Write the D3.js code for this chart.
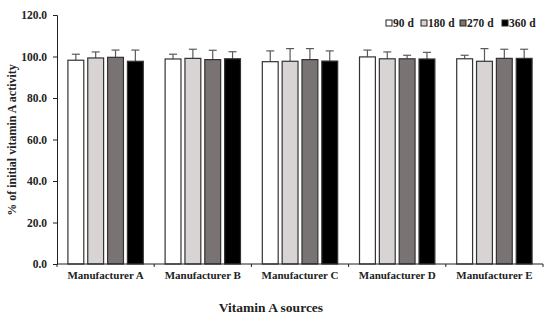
<!DOCTYPE html>
<html>
<head>
<meta charset="utf-8">
<title>vitamin A activity</title>
<script src="https://d3js.org/d3.v7.min.js"></script>
<style>
  body { margin: 0; background: #fff; }
  svg { display: block; font-family: "Liberation Serif", "Times New Roman", serif; font-weight: bold; }
</style>
</head>
<body>
<svg id="main" width="550" height="319"></svg>
<script>
// data
let sources = ['Manufacturer A', 'Manufacturer B', 'Manufacturer C', 'Manufacturer D', 'Manufacturer E'];
let periods = ['90 d', '180 d', '270 d', '360 d'];
let d90  = [98.2, 98.8, 97.5, 99.8, 98.9];
let d180 = [99.3, 99.1, 97.7, 98.9, 97.7];
let d270 = [99.6, 98.5, 98.5, 98.9, 99.1];
let d360 = [97.7, 98.9, 97.8, 98.8, 99.1];
let e90  = [2.9, 2.3, 5.2, 3.3, 1.7];
let e180 = [2.9, 4.4, 6.1, 3.3, 6.1];
let e270 = [3.5, 4.5, 5.3, 1.7, 4.4];
let e360 = [5.4, 3.4, 4.9, 3.2, 4.4];
let yTicks = [0, 20, 40, 60, 80, 100, 120];

let values = [d90, d180, d270, d360];
let errors = [e90, e180, e270, e360];
let fills = ['#ffffff', '#d8d4d4', '#7a7373', '#000000'];

let svg = d3.select('svg#main');
let mLeft = 57, mRight = 543, mTop = 15, mBottom = 264;

let x = d3.scaleBand().domain(sources).range([mLeft, mRight]).paddingInner(0).paddingOuter(0);
let xs = d3.scaleBand().domain(periods).range([0, x.bandwidth()]).paddingInner(0.2).paddingOuter(0.55);
let y = d3.scaleLinear().domain([0, 120]).range([mBottom, mTop]);

// rows: one per bar
let rows = [];
sources.forEach((s, i) => {
    periods.forEach((p, j) => {
        rows.push({ source: s, period: p, k: j, v: values[j][i], e: errors[j][i] });
    });
});

// error bars (behind bars)
let eb = svg.append('g').attr('class', 'errors')
    .attr('stroke', '#5a5a5a').attr('stroke-width', 1.2);
eb.selectAll('line.stem').data(rows).enter().append('line')
    .attr('x1', d => x(d.source) + xs(d.period) + xs.bandwidth() / 2)
    .attr('x2', d => x(d.source) + xs(d.period) + xs.bandwidth() / 2)
    .attr('y1', d => y(d.v))
    .attr('y2', d => y(d.v + d.e));
eb.selectAll('line.cap').data(rows).enter().append('line')
    .attr('x1', d => x(d.source) + xs(d.period) + xs.bandwidth() / 2 - 4)
    .attr('x2', d => x(d.source) + xs(d.period) + xs.bandwidth() / 2 + 4)
    .attr('y1', d => y(d.v + d.e))
    .attr('y2', d => y(d.v + d.e));

// bars
svg.append('g').attr('class', 'bars')
    .selectAll('rect').data(rows).enter().append('rect')
    .attr('x', d => x(d.source) + xs(d.period))
    .attr('y', d => y(d.v))
    .attr('width', xs.bandwidth())
    .attr('height', d => y(0) - y(d.v))
    .attr('fill', d => fills[d.k])
    .attr('stroke', '#333')
    .attr('stroke-width', 1.2);

// y axis
let yAxis = svg.append('g')
    .attr('transform', 'translate(' + mLeft + ',0)')
    .call(d3.axisLeft(y).tickValues(yTicks).tickFormat(d3.format('.1f')).tickSize(4).tickPadding(6));
yAxis.selectAll('text').attr('font-size', 11.5).attr('font-family', 'Liberation Serif').attr('font-weight', 'bold').attr('fill', '#222');

// x axis: ticks at band edges
let xAxis = svg.append('g').attr('transform', 'translate(0,' + mBottom + ')');
xAxis.append('line').attr('x1', mLeft).attr('x2', mRight).attr('stroke', '#222');
xAxis.selectAll('line.tk').data(sources.concat(['end'])).enter().append('line')
    .attr('x1', (d, i) => i < sources.length ? x(d) : mRight)
    .attr('x2', (d, i) => i < sources.length ? x(d) : mRight)
    .attr('y1', 0).attr('y2', 3).attr('stroke', '#222');
xAxis.selectAll('text').data(sources).enter().append('text')
    .attr('x', d => x(d) + x.bandwidth() / 2)
    .attr('y', 15)
    .attr('text-anchor', 'middle')
    .attr('font-size', 11)
    .attr('fill', '#222')
    .text(d => d);
svg.selectAll('.domain').attr('stroke', '#222');
svg.selectAll('.tick line').attr('stroke', '#222');

// axis titles
svg.append('text')
    .attr('x', 271).attr('y', 312)
    .attr('text-anchor', 'middle')
    .attr('font-size', 13.5)
    .attr('fill', '#222')
    .text('Vitamin A sources');
svg.append('text')
    .attr('transform', 'translate(16,' + 140 + ') rotate(-90)')
    .attr('text-anchor', 'middle')
    .attr('font-size', 12)
    .attr('fill', '#222')
    .text('% of initial vitamin A activity');

// legend
let legendX = [386, 421, 460, 502];
let lg = svg.append('g').attr('class', 'legend');
let item = lg.selectAll('g').data(periods).enter().append('g')
    .attr('transform', (d, i) => 'translate(' + legendX[i] + ',27)');
item.append('rect')
    .attr('x', 0).attr('y', -7).attr('width', 6).attr('height', 6)
    .attr('fill', (d, i) => fills[i]).attr('stroke', '#222').attr('stroke-width', 1);
item.append('text')
    .attr('x', 7).attr('y', 0)
    .attr('font-size', 11.5)
    .attr('fill', '#222')
    .text(d => d);
</script>
</body>
</html>
